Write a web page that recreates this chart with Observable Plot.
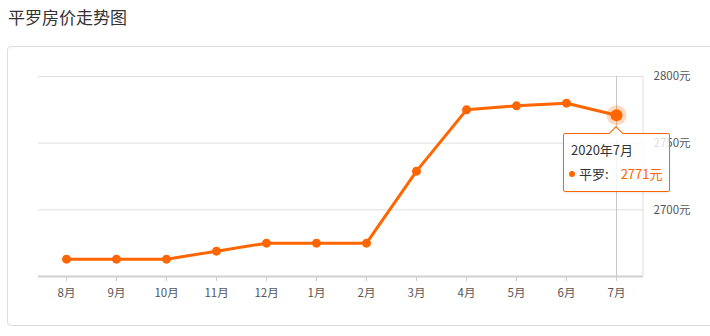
<!DOCTYPE html>
<html><head><meta charset="utf-8">
<script src="https://cdn.jsdelivr.net/npm/d3@7"></script>
<script src="https://cdn.jsdelivr.net/npm/@observablehq/plot@0.6"></script>
<style>
  html,body{margin:0;padding:0;background:#fff;width:710px;height:336px;overflow:hidden;font-family:"Noto Sans CJK SC","Noto Sans",sans-serif;}
  #title{position:absolute;left:8px;top:6px;font-size:17px;line-height:22px;color:#333;}
  #panel{position:absolute;left:7px;top:46px;width:730px;height:280px;border:1px solid #ddd;border-radius:4px;box-sizing:border-box;}
  #chart{position:absolute;left:0;top:46px;}
  #tip{position:absolute;width:107px;height:59px;box-sizing:border-box;border:1px solid #f60;border-radius:2px;background:rgba(255,255,255,0.8);font-size:13px;color:#333;box-shadow:0 1px 3px rgba(0,0,0,0.08);}
  #tip .arrow{position:absolute;left:47px;top:-6px;width:9px;height:9px;background:#fff;border-left:1px solid #f60;border-top:1px solid #f60;transform:rotate(45deg);}
  #tip .d{position:absolute;left:7px;top:7px;line-height:17px;}
  #tip .r{position:absolute;left:5px;top:31px;line-height:17px;white-space:nowrap;}
  #tip .dot{display:inline-block;width:6px;height:6px;border-radius:50%;background:#f60;margin-right:4px;vertical-align:2px;}
  #tip .v{color:#f60;margin-left:12px;}
</style></head>
<body>
<div id="title">平罗房价走势图</div>
<div id="panel"></div>
<div id="chart"></div>
<div id="tip"></div>
<script>
const months = ["8月","9月","10月","11月","12月","1月","2月","3月","4月","5月","6月","7月"];
const prices = [2663,2663,2663,2669,2675,2675,2675,2729,2775,2778,2780,2771];
const yTicks = [2700,2750,2800];
const yDomain = [2650,2800];
const seriesName = "平罗";
const tipMonth = "7月";
const tipDate = "2020年7月";
const unit = "元";

const data = months.map((m,i)=>({month:m, price:prices[i]}));
const hi = data.filter(d=>d.month===tipMonth);
const orange = "#f60";

const plot = Plot.plot({
  width:710, height:290,
  marginLeft:38, marginRight:67, marginTop:30, marginBottom:60,
  style:{fontSize:"11.5px", fontFamily:'"Noto Sans CJK SC","Noto Sans",sans-serif', color:"#555", background:"transparent", overflow:"visible"},
  x:{type:"point", domain:months, padding:0.5, tickSize:5, tickPadding:7, label:null},
  y:{domain:yDomain, axis:"right", ticks:yTicks, tickFormat:d=>d+unit, tickSize:0, tickPadding:10, label:null},
  marks:[
    Plot.ruleY(yTicks, {stroke:"#e0e0e0", strokeWidth:1}),
    Plot.ruleY([yDomain[0]], {stroke:"#d0d0d0", strokeWidth:2}),
    Plot.ruleX(hi, {x:"month", y1:yDomain[0], y2:yDomain[1], stroke:"#c8c8c8", strokeWidth:1}),
    Plot.line(data, {x:"month", y:"price", stroke:orange, strokeWidth:3}),
    Plot.dot(data, {x:"month", y:"price", r:4.5, fill:orange, stroke:"none"}),
    Plot.dot(hi, {x:"month", y:"price", r:10, fill:orange, fillOpacity:0.25, stroke:"none"}),
    Plot.dot(hi, {x:"month", y:"price", r:6, fill:orange, stroke:"none"})
  ]
});
document.getElementById("chart").appendChild(plot);

const xs = plot.scale("x"), ys = plot.scale("y");
const svg = d3.select(plot);
svg.selectAll("[aria-label='x-axis'] path, [aria-label='x-axis'] line, [aria-label='x-axis tick'] path").attr("stroke","#ccc");
const xr = xs.range, yr = ys.range;
svg.append("line").attr("x1",xr[1]).attr("x2",xr[1]).attr("y1",Math.min(...yr)).attr("y2",Math.max(...yr))
   .attr("stroke","#e0e0e0").attr("stroke-width",1);

const px = xs.apply(tipMonth), py = ys.apply(hi[0].price) + 46;
const tip = document.getElementById("tip");
tip.style.left = (px - 53) + "px";
tip.style.top = (py + 18) + "px";
tip.innerHTML = `<div class="arrow"></div><div class="d">${tipDate}</div><div class="r"><span class="dot"></span>${seriesName}:<span class="v">${hi[0].price}${unit}</span></div>`;
</script>
</body></html>
